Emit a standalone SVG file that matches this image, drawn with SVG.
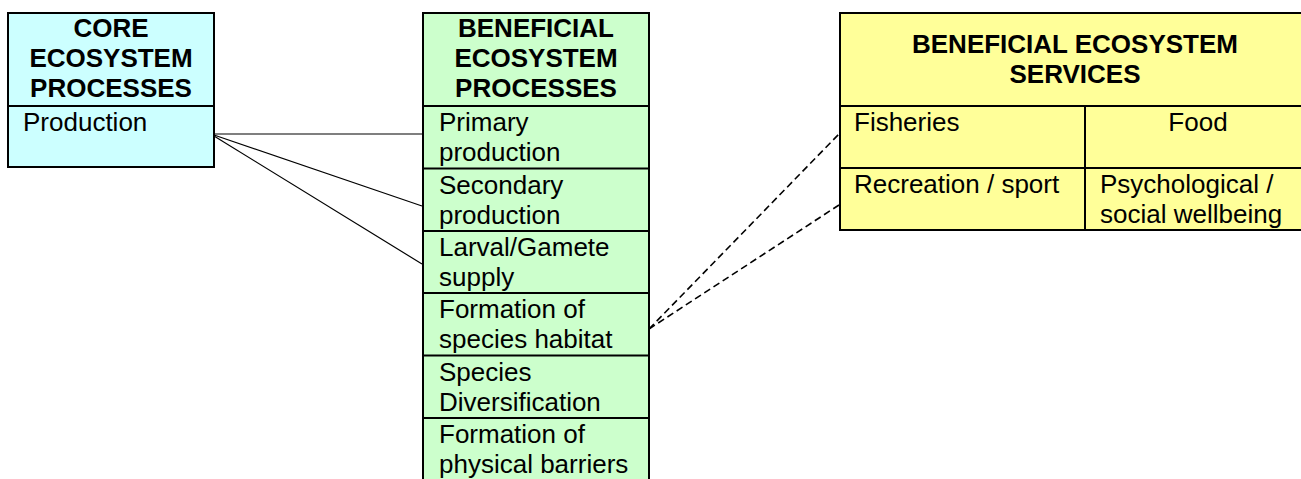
<svg xmlns="http://www.w3.org/2000/svg" width="1301" height="479" viewBox="0 0 1301 479">
<style>
.box{stroke:#000;stroke-width:2}
.div{stroke:#000;stroke-width:2;fill:none}
text{font-family:"Liberation Sans",Arial,sans-serif;font-size:26px;fill:#000}
.h{font-weight:bold;text-anchor:middle}
.c{text-anchor:middle}
.solid{stroke:#000;stroke-width:1.2;fill:none}
.dash{stroke:#000;stroke-width:1.6;fill:none;stroke-dasharray:7 4}
</style>
<rect width="1301" height="479" fill="#fff"/>
<g id="connectors">
<line class="solid" x1="214" y1="134" x2="422" y2="134"/>
<line class="solid" x1="214" y1="135" x2="422" y2="206"/>
<line class="solid" x1="214" y1="136" x2="422" y2="264"/>
<line class="dash" x1="649" y1="329" x2="839" y2="134"/>
<line class="dash" x1="649" y1="329" x2="839" y2="205"/>
</g>
<g id="core">
<rect class="box" x="8" y="13" width="206" height="154" fill="#ccffff"/>
<line class="div" x1="7" y1="106" x2="215" y2="106"/>
<text class="h" x="111" y="37">CORE</text>
<text class="h" x="111" y="67">ECOSYSTEM</text>
<text class="h" x="111" y="97">PROCESSES</text>
<text x="23" y="131">Production</text>
</g>
<g id="beneficial-processes">
<rect class="box" x="423" y="13" width="226" height="480" fill="#ccffcc"/>
<line class="div" x1="422" y1="106" x2="650" y2="106"/>
<line class="div" x1="422" y1="168.5" x2="650" y2="168.5"/>
<line class="div" x1="422" y1="231" x2="650" y2="231"/>
<line class="div" x1="422" y1="293" x2="650" y2="293"/>
<line class="div" x1="422" y1="355.5" x2="650" y2="355.5"/>
<line class="div" x1="422" y1="418" x2="650" y2="418"/>
<text class="h" x="536" y="37">BENEFICIAL</text>
<text class="h" x="536" y="67">ECOSYSTEM</text>
<text class="h" x="536" y="97">PROCESSES</text>
<text x="439" y="131">Primary</text>
<text x="439" y="161">production</text>
<text x="439" y="193.5">Secondary</text>
<text x="439" y="223.5">production</text>
<text x="439" y="256">Larval/Gamete</text>
<text x="439" y="286">supply</text>
<text x="439" y="318">Formation of</text>
<text x="439" y="348">species habitat</text>
<text x="439" y="380.5">Species</text>
<text x="439" y="410.5">Diversification</text>
<text x="439" y="443">Formation of</text>
<text x="439" y="473">physical barriers</text>
</g>
<g id="beneficial-services">
<rect class="box" x="840" y="13" width="480" height="217" fill="#ffff99"/>
<line class="div" x1="839" y1="106" x2="1320" y2="106"/>
<line class="div" x1="839" y1="168" x2="1320" y2="168"/>
<line class="div" x1="1085" y1="106" x2="1085" y2="231"/>
<text class="h" x="1075" y="53">BENEFICIAL ECOSYSTEM</text>
<text class="h" x="1075" y="83">SERVICES</text>
<text x="854" y="131">Fisheries</text>
<text class="c" x="1198" y="131">Food</text>
<text x="854" y="193">Recreation / sport</text>
<text x="1100" y="193">Psychological /</text>
<text x="1100" y="223">social wellbeing</text>
</g>
</svg>
